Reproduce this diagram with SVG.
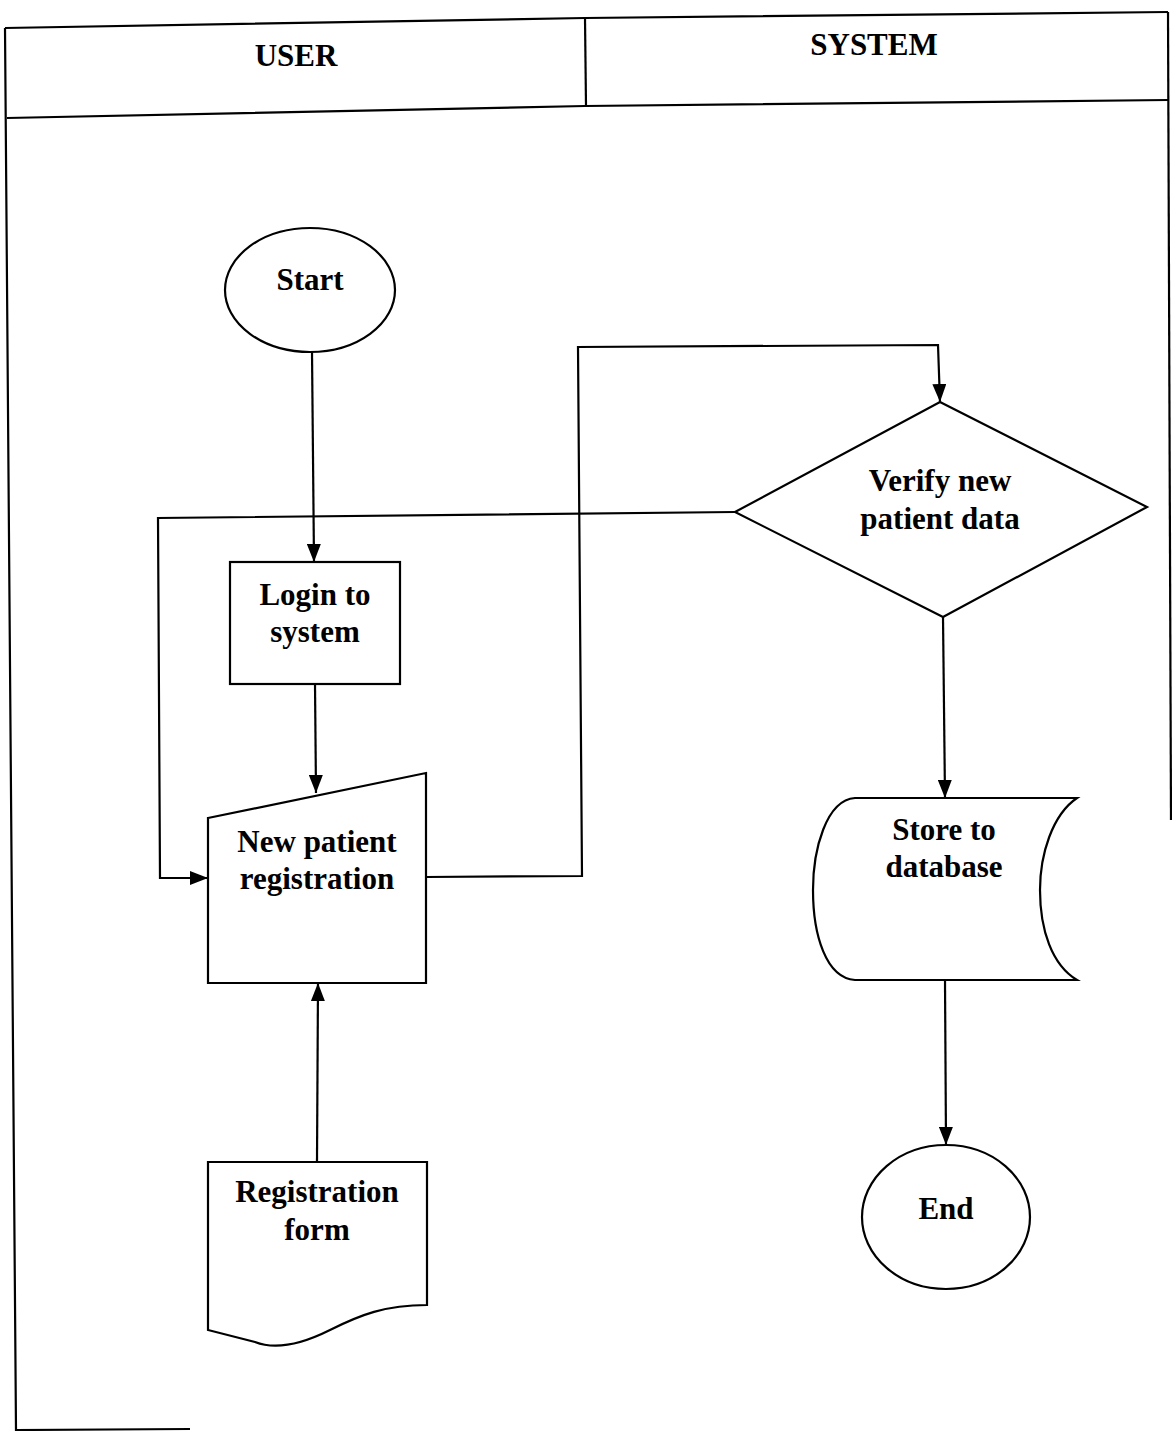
<svg xmlns="http://www.w3.org/2000/svg" width="1172" height="1431" viewBox="0 0 1172 1431">
<defs>
<style>
.ln{fill:none;stroke:#000;stroke-width:2.2}
.sh{fill:#fff;stroke:#000;stroke-width:2.2}
.tx{font-family:"Liberation Serif","Times New Roman",serif;font-weight:bold;font-size:31px;fill:#000;text-anchor:middle}
.hd{font-family:"Liberation Serif","Times New Roman",serif;font-weight:bold;font-size:31px;fill:#000;text-anchor:middle}
</style>
<marker id="arr" markerWidth="18" markerHeight="14" refX="18" refY="7" orient="auto" markerUnits="userSpaceOnUse" viewBox="0 0 18 14">
<path d="M0,0 L18,7 L0,14 Z" fill="#000"/>
</marker>
</defs>
<rect width="1172" height="1431" fill="#fff"/>
<g id="frame">
<path class="ln" d="M5,28 L585,18 L1168,12" stroke-width="2.5"/>
<path class="ln" d="M5,28 L16,1430 L190,1429"/>
<path class="ln" d="M1168,12 L1171,820"/>
<path class="ln" d="M7,118 L585,106 L1168,100"/>
<path class="ln" d="M585,18 L586,106" stroke-width="3"/>
</g>
<g id="lane-user"><text class="hd" x="296" y="66">USER</text></g>
<g id="lane-system"><text class="hd" x="874" y="55">SYSTEM</text></g>
<g id="connectors">
<path class="ln" d="M312,352 L314,562" marker-end="url(#arr)"/>
<path class="ln" d="M315,684 L316,793" marker-end="url(#arr)"/>
<path class="ln" d="M735,512 L158,518 L160,878 L208,878" marker-end="url(#arr)"/>
<path class="ln" d="M426,877 L582,876 L578,347 L938,345 L940,402" marker-end="url(#arr)"/>
<path class="ln" d="M943,617 L945,798" marker-end="url(#arr)"/>
<path class="ln" d="M945,980 L946,1145" marker-end="url(#arr)"/>
<path class="ln" d="M317,1162 L318,983" marker-end="url(#arr)"/>
</g>
<g id="start">
<ellipse class="sh" cx="310" cy="290" rx="85" ry="62"/>
<text class="tx" x="310" y="290">Start</text>
</g>
<g id="login">
<rect class="sh" x="230" y="562" width="170" height="122"/>
<text class="tx" x="315" y="605">Login to</text>
<text class="tx" x="315" y="642">system</text>
</g>
<g id="registration">
<path class="sh" d="M208,818 L426,773 L426,983 L208,983 Z"/>
<text class="tx" x="317" y="852">New patient</text>
<text class="tx" x="317" y="889">registration</text>
</g>
<g id="verify">
<path class="sh" d="M940,402 L1147,507 L943,617 L735,512 Z"/>
<text class="tx" x="940" y="491">Verify new</text>
<text class="tx" x="940" y="529">patient data</text>
</g>
<g id="store">
<path class="sh" d="M855,798 L1077,798 C1052,815 1040,855 1040,890 C1040,930 1052,965 1077,980 L855,980 C826,978 813,935 813,890 C813,850 826,800 855,798 Z"/>
<text class="tx" x="944" y="840">Store to</text>
<text class="tx" x="944" y="877">database</text>
</g>
<g id="end">
<ellipse class="sh" cx="946" cy="1217" rx="84" ry="72"/>
<text class="tx" x="946" y="1219">End</text>
</g>
<g id="form">
<path class="sh" d="M208,1162 L427,1162 L427,1305 C385,1305 360,1315 330,1330 C300,1345 275,1350 255,1342 L208,1330 Z"/>
<text class="tx" x="317" y="1202">Registration</text>
<text class="tx" x="317" y="1240">form</text>
</g>
</svg>
